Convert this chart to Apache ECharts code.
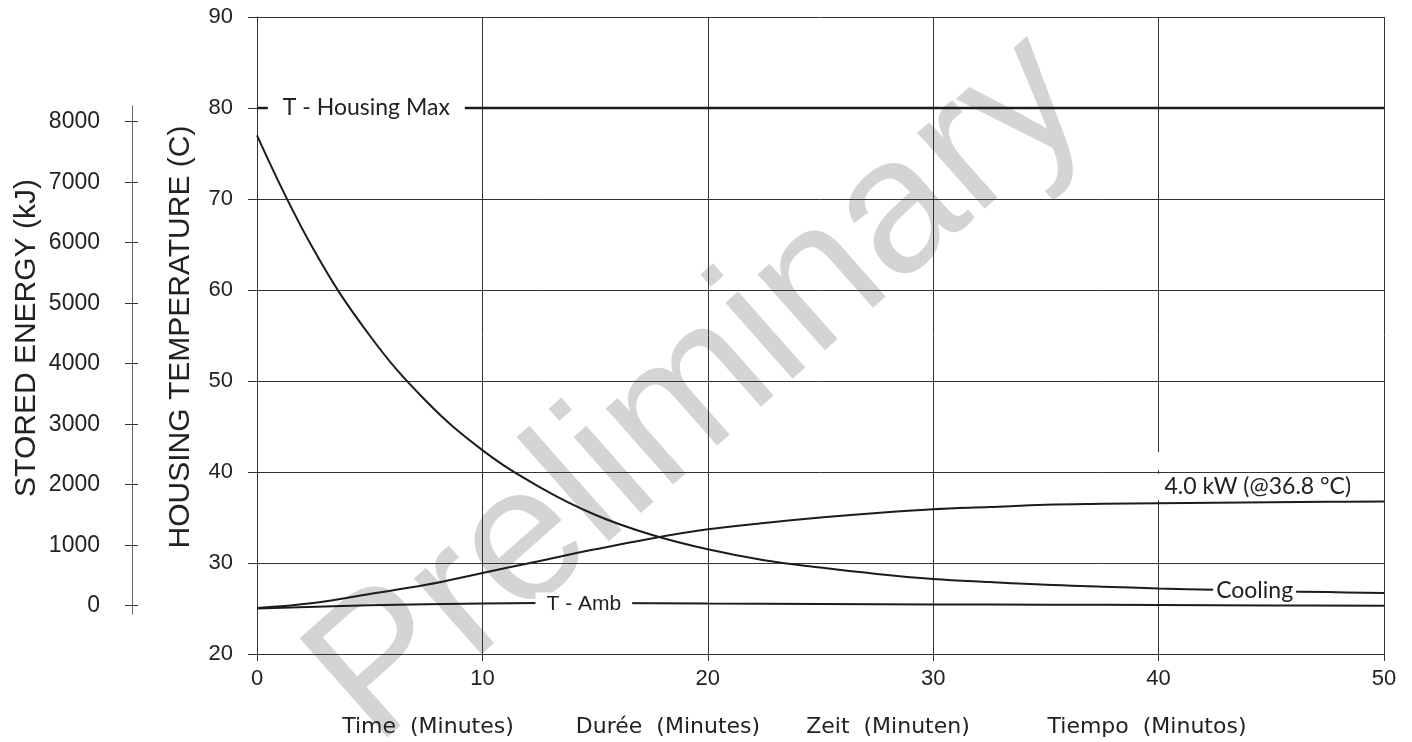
<!DOCTYPE html>
<html><head><meta charset="utf-8">
<script src="https://cdn.jsdelivr.net/npm/echarts@6/dist/echarts.min.js"></script>
<style>html,body{margin:0;padding:0;background:#fff}#c{width:1412px;height:742px}</style>
</head><body><div id="c"></div>
<script>
// ---- data ----
const xTicks = [0, 10, 20, 30, 40, 50];
const tempTicks = [20, 30, 40, 50, 60, 70, 80, 90];
const energyTicks = [0, 1000, 2000, 3000, 4000, 5000, 6000, 7000, 8000];

const timeSteps = [0, 2.5, 5, 7.5, 10, 12.5, 15, 17.5, 20, 22.5, 25, 27.5, 30, 32.5, 35, 37.5, 40, 42.5, 45, 47.5, 50];
const coolingTemp = [77.0, 64.5, 55.0, 47.8, 42.4, 38.4, 35.3, 33.1, 31.5, 30.3, 29.5, 28.8, 28.25, 27.9, 27.6, 27.4, 27.2, 27.05, 26.9, 26.8, 26.7];
const heatTemp = [25.05, 25.6, 26.6, 27.6, 28.9, 30.2, 31.5, 32.7, 33.7, 34.4, 35.0, 35.5, 35.9, 36.15, 36.4, 36.5, 36.56, 36.62, 36.68, 36.72, 36.75];

const ambTime = [0, 5, 10, 15, 20, 25, 30, 35, 40, 45, 50];
const ambTemp = [25.0, 25.35, 25.55, 25.6, 25.55, 25.5, 25.45, 25.42, 25.38, 25.33, 25.3];

const housingMaxTime = [0, 50];
const housingMaxTemp = [80, 80];

const xNameTexts = ['Time  (Minutes)', 'Durée  (Minutes)', 'Zeit  (Minuten)', 'Tiempo  (Minutos)'];
const labelTexts = { max: 'T - Housing Max', amb: 'T - Amb', cooling: 'Cooling', kw: '4.0 kW (@36.8 °C)' };

const zip = (a, b) => a.map((v, i) => [v, b[i]]);

const INK = '#1c1c1c';
const calibri = 'Lato, "Open Sans", sans-serif';
const arial = '"Liberation Sans", Arial, sans-serif';

const chart = echarts.init(document.getElementById('c'), null, { renderer: 'canvas' });

const labelBox = (txt, pad, font, size) => ({
  show: true, formatter: txt, position: 'inside',
  color: '#222', fontFamily: font, fontSize: size,
  backgroundColor: pad === null ? 'transparent' : '#fff',
  padding: pad === null ? 0 : [1, pad]
});

const plain = v => String(v);

const option = {
  backgroundColor: '#fff',
  animation: false,
  grid: [
    { left: 257, right: 28, top: 17, bottom: 88 },
    { left: 132, top: 106, width: 1, height: 508 }
  ],
  xAxis: [
    {
      gridIndex: 0, type: 'value', min: 0, max: 50, interval: 10,
      axisLine: { show: true, lineStyle: { color: '#333', width: 1 } },
      axisTick: { show: true, length: 7, lineStyle: { color: '#333' } },
      axisLabel: { margin: 14, color: '#222', fontSize: 22, fontFamily: '"Liberation Sans Narrow", ' + arial,
        customValues: xTicks, formatter: plain },
      splitLine: { show: true, lineStyle: { color: '#333', width: 1 } }
    },
    { gridIndex: 1, type: 'value', min: 0, max: 1, show: false }
  ],
  yAxis: [
    {
      gridIndex: 0, type: 'value', min: 20, max: 90, interval: 10,
      axisLine: { show: true, lineStyle: { color: '#333', width: 1 } },
      axisTick: { show: true, length: 9, lineStyle: { color: '#333' } },
      axisLabel: { margin: 24, color: '#222', fontSize: 22, fontFamily: arial,
        customValues: tempTicks, formatter: plain },
      splitLine: { show: true, lineStyle: { color: '#333', width: 1 } }
    },
    {
      gridIndex: 1, type: 'value', min: -137, max: 8260, position: 'left',
      axisLine: { show: true, lineStyle: { color: '#666', width: 1 } },
      axisTick: { show: true, inside: true, length: 6, customValues: energyTicks, lineStyle: { color: '#333' } },
      axisLabel: { show: false },
      splitLine: { show: false }
    },
    {
      gridIndex: 1, type: 'value', min: -137, max: 8260, position: 'left',
      axisLine: { show: true, lineStyle: { color: '#666', width: 1 } },
      axisTick: { show: true, inside: false, length: 7, customValues: energyTicks, lineStyle: { color: '#333' } },
      axisLabel: { show: true, margin: 32, color: '#222', fontSize: 23, fontFamily: arial,
        customValues: energyTicks, formatter: plain },
      splitLine: { show: false }
    }
  ],
  series: [
    {
      name: 'gridGap', type: 'line', data: [], silent: true, z: 1,
      markLine: {
        silent: true, symbol: 'none', label: { show: false },
        lineStyle: { color: '#fff', width: 3, type: 'solid' },
        data: [
          [{ coord: [40, 36.9] }, { coord: [40, 39.8] }],
          [{ coord: [40, 40.2] }, { coord: [40, 42.2] }]
        ]
      }
    },
    {
      name: 'T - Housing Max', type: 'line', data: zip(housingMaxTime, housingMaxTemp),
      showSymbol: false, symbol: 'none', lineStyle: { color: INK, width: 2.6 }, z: 3,
      markPoint: { symbol: 'rect', symbolSize: 0, silent: true,
        label: labelBox(labelTexts.max, 15, calibri, 23),
        data: [{ coord: [4.85, 80] }] }
    },
    {
      name: 'Cooling', type: 'line', data: zip(timeSteps, coolingTemp), smooth: 0.4,
      showSymbol: false, symbol: 'none', lineStyle: { color: INK, width: 2 }, z: 3,
      markPoint: { symbol: 'rect', symbolSize: 0, silent: true,
        label: labelBox(labelTexts.cooling, 3, calibri, 23),
        data: [{ coord: [44.26, 27.0] }] }
    },
    {
      name: '4.0 kW', type: 'line', data: zip(timeSteps, heatTemp), smooth: 0.4,
      showSymbol: false, symbol: 'none', lineStyle: { color: INK, width: 2 }, z: 3,
      markPoint: { symbol: 'rect', symbolSize: 0, silent: true,
        label: labelBox(labelTexts.kw, null, calibri, 23),
        data: [{ coord: [44.4, 38.4] }] }
    },
    {
      name: 'T - Amb', type: 'line', data: zip(ambTime, ambTemp), smooth: 0.4,
      showSymbol: false, symbol: 'none', lineStyle: { color: INK, width: 2 }, z: 3,
      markPoint: { symbol: 'rect', symbolSize: 0, silent: true,
        label: labelBox(labelTexts.amb, 11, arial, 21),
        data: [{ coord: [14.5, 25.5] }] }
    }
  ],
  graphic: [
    { type: 'text', z: -10, x: 700, y: 390, rotation: 41.5 * Math.PI / 180,
      style: { text: 'Preliminary', fontFamily: arial, fontSize: 192, fill: '#d4d4d4', align: 'center', verticalAlign: 'middle' } },
    { type: 'text', x: 181, y: 337, rotation: Math.PI / 2,
      style: { text: 'HOUSING TEMPERATURE (C)', fontFamily: arial, fontSize: 30, fill: '#222', align: 'center', verticalAlign: 'middle' } },
    { type: 'text', x: 27, y: 338, rotation: Math.PI / 2,
      style: { text: 'STORED ENERGY (kJ)', fontFamily: arial, fontSize: 30, fill: '#222', align: 'center', verticalAlign: 'middle' } },
    { type: 'text', x: 428, y: 727, style: { text: xNameTexts[0], fontFamily: '"DejaVu Sans", sans-serif', fontSize: 22, fill: '#222', align: 'center', verticalAlign: 'middle' } },
    { type: 'text', x: 668, y: 727, style: { text: xNameTexts[1], fontFamily: '"DejaVu Sans", sans-serif', fontSize: 22, fill: '#222', align: 'center', verticalAlign: 'middle' } },
    { type: 'text', x: 888, y: 727, style: { text: xNameTexts[2], fontFamily: '"DejaVu Sans", sans-serif', fontSize: 22, fill: '#222', align: 'center', verticalAlign: 'middle' } },
    { type: 'text', x: 1147, y: 727, style: { text: xNameTexts[3], fontFamily: '"DejaVu Sans", sans-serif', fontSize: 22, fill: '#222', align: 'center', verticalAlign: 'middle' } }
  ]
};
chart.setOption(option);
</script>
</body></html>
